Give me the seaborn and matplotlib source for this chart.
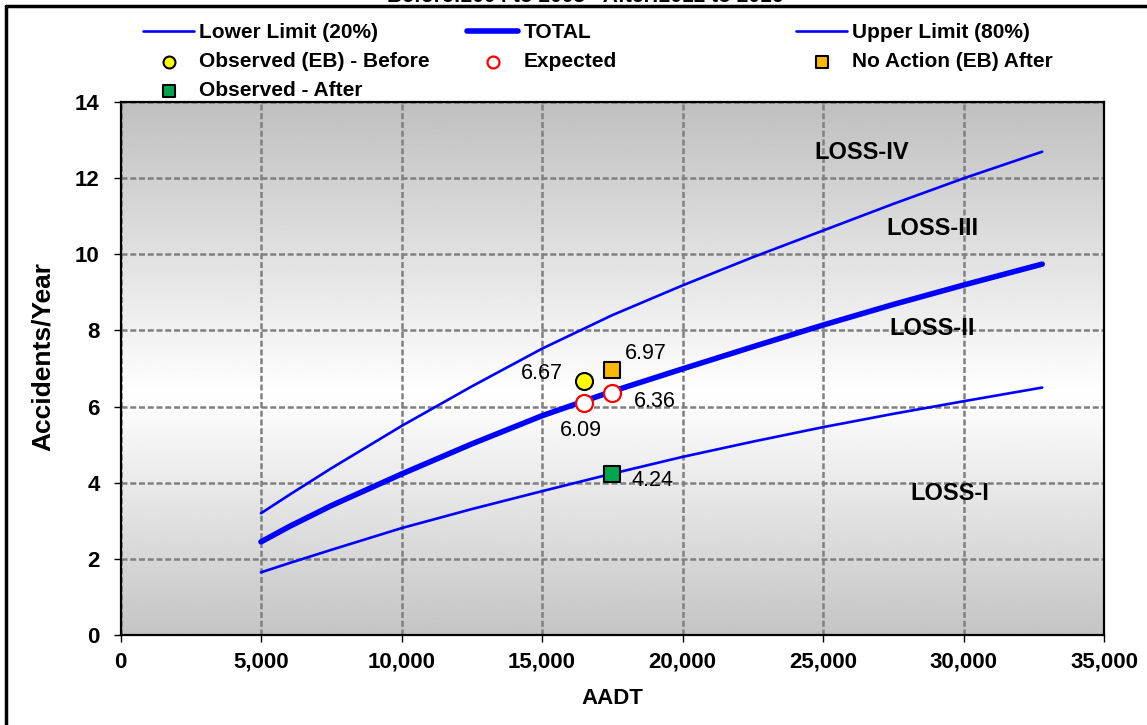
import numpy as np
import pandas as pd
import matplotlib
matplotlib.use("Agg")
import matplotlib.pyplot as plt
from matplotlib.lines import Line2D
import seaborn as sns

# ---------------- data ----------------
aadt = [5000, 6000, 7500, 10000, 12500, 15000, 17500, 20000, 22500, 25000, 27500, 30000, 32800]
lower_limit = [1.65, 1.89, 2.24, 2.81, 3.31, 3.78, 4.24, 4.68, 5.08, 5.46, 5.81, 6.14, 6.50]
total = [2.45, 2.85, 3.40, 4.23, 5.02, 5.76, 6.40, 6.99, 7.57, 8.14, 8.68, 9.19, 9.74]
upper_limit = [3.20, 3.68, 4.38, 5.49, 6.53, 7.52, 8.40, 9.18, 9.92, 10.62, 11.32, 11.99, 12.69]

obs_before_x = [16500]
obs_before_y = [6.67]
expected_x = [16500, 17500]
expected_y = [6.09, 6.36]
no_action_x = [17500]
no_action_y = [6.97]
obs_after_x = [17500]
obs_after_y = [4.24]

x_ticks = [0, 5000, 10000, 15000, 20000, 25000, 30000, 35000]
x_tick_labels = ["0", "5,000", "10,000", "15,000", "20,000", "25,000", "30,000", "35,000"]
y_ticks = [0, 2, 4, 6, 8, 10, 12, 14]

zone_labels = ["LOSS-IV", "LOSS-III", "LOSS-II", "LOSS-I"]
zone_x = [26360, 28900, 28900, 29520]
zone_y = [12.66, 10.68, 8.04, 3.72]

title_text = "Before:2004 to 2008 - After:2012 to 2016"

# ---------------- style ----------------
sns.set_style("white")
plt.rcParams["font.family"] = ["Liberation Sans", "DejaVu Sans"]
for k in ["text.color", "axes.labelcolor", "xtick.color", "ytick.color"]:
    plt.rcParams[k] = "black"

W, H = 1147, 725
fig = plt.figure(figsize=(W / 100, H / 100), dpi=100)
ax = fig.add_axes([120.5 / W, 1 - 635.2 / H, (1104 - 120.5) / W, (635.2 - 101.8) / H])

# background gradient (gray - white - gray)
yy = np.linspace(0, 14, 300)
vals = np.where(yy < 6.3, 0.77 + (1 - 0.77) * (yy / 6.3), 1 - (1 - 0.75) * ((yy - 6.3) / (14 - 6.3)))
grad = vals[:, None]
ax.imshow(grad, extent=[0, 35000, 0, 14], origin="lower", aspect="auto",
          cmap="gray", vmin=0, vmax=1, zorder=0, interpolation="bilinear")

blue = "#0000FF"
curves = pd.DataFrame({"AADT": aadt, "lower": lower_limit, "total": total, "upper": upper_limit})
sns.lineplot(data=curves, x="AADT", y="lower", ax=ax, color=blue, lw=1.9, label="Lower Limit (20%)", zorder=3)
sns.lineplot(data=curves, x="AADT", y="total", ax=ax, color=blue, lw=4.0, label="TOTAL", zorder=3)
sns.lineplot(data=curves, x="AADT", y="upper", ax=ax, color=blue, lw=1.9, label="Upper Limit (80%)", zorder=3)

sns.scatterplot(x=obs_before_x, y=obs_before_y, ax=ax, marker="o", s=150, color="#FFFF00",
                edgecolor="black", linewidth=1.5, label="Observed (EB) - Before", zorder=5)
sns.scatterplot(x=expected_x, y=expected_y, ax=ax, marker="o", s=150, color="white",
                edgecolor="#FF0000", linewidth=1.6, label="Expected", zorder=5)
sns.scatterplot(x=no_action_x, y=no_action_y, ax=ax, marker="s", s=140, color="#FFB800",
                edgecolor="black", linewidth=1.5, label="No Action (EB) After", zorder=5)
sns.scatterplot(x=obs_after_x, y=obs_after_y, ax=ax, marker="s", s=140, color="#00A550",
                edgecolor="black", linewidth=1.5, label="Observed - After", zorder=5)

handles, labels = ax.get_legend_handles_labels()
hmap = dict(zip(labels, handles))
ax.get_legend().remove()

# data labels
def lab(x, y, txt, dx, dy, ha):
    ax.annotate(txt, (x, y), xytext=(dx * 0.72, dy * 0.72), textcoords="offset points",
                ha=ha, va="center", fontsize=15.5, color="black", zorder=6)

lab(obs_before_x[0], obs_before_y[0], f"{obs_before_y[0]:.2f}", -21, 8, "right")
lab(no_action_x[0], no_action_y[0], f"{no_action_y[0]:.2f}", 13, 16, "left")
lab(expected_x[1], expected_y[1], f"{expected_y[1]:.2f}", 22, -9, "left")
lab(expected_x[0], expected_y[0], f"{expected_y[0]:.2f}", -3, -27, "center")
lab(obs_after_x[0], obs_after_y[0], f"{obs_after_y[0]:.2f}", 19, -7, "left")

for t, zx, zy in zip(zone_labels, zone_x, zone_y):
    ax.text(zx, zy, t, ha="center", va="center", fontsize=17, fontweight="bold",
            color="black", zorder=6)

# axes
ax.set_xlim(0, 35000)
ax.set_ylim(0, 14)
ax.set_xticks(x_ticks)
ax.set_xticklabels(x_tick_labels)
ax.set_yticks(y_ticks)
ax.grid(True, color="#808080", lw=1.8, linestyle=(0, (2.4, 1.1)), zorder=1)
ax.set_axisbelow(False)
for gl in ax.get_xgridlines() + ax.get_ygridlines():
    gl.set_zorder(1)
for s in ax.spines.values():
    s.set_color("black")
    s.set_linewidth(1.6)
    s.set_zorder(7)
ax.tick_params(axis="both", which="both", direction="out", length=5, width=1, color="black",
               labelsize=16, labelcolor="black")
ax.tick_params(axis="x", pad=7, bottom=True)
ax.tick_params(axis="y", pad=10, left=True)
for t in ax.get_xticklabels() + ax.get_yticklabels():
    t.set_fontweight("bold")
ax.set_xlabel("AADT", fontsize=16, fontweight="bold", color="black")
ax.set_ylabel("Accidents/Year", fontsize=19, fontweight="bold", color="black")
ax.xaxis.set_label_coords(0.5, -(688 - 635.2) / 533.4)
ax.yaxis.set_label_coords(-(120.5 - 55) / 983.5, (635.2 - 357) / 533.4)

# legend (three columns)
leg_kw = dict(loc="upper left", frameon=False, prop={"weight": "bold", "size": 15},
              borderpad=0, borderaxespad=0, handlelength=2.45, handletextpad=0.25,
              labelspacing=0.48, markerscale=0.7, labelcolor="black")
cols = [
    (["Lower Limit (20%)", "Observed (EB) - Before", "Observed - After"], 143),
    (["TOTAL", "Expected"], 467),
    (["Upper Limit (80%)", "No Action (EB) After"], 796),
]
for labs, xpx in cols:
    fig.legend([hmap[l] for l in labs], labs, bbox_to_anchor=(xpx / W, 1 - 23 / H), **leg_kw)

# title (cut at the top as in reference) and outer border
fig.text(0.51, 1 - 6 / H, title_text, ha="center", va="bottom", fontsize=15, fontweight="bold",
         color="black")
fig.add_artist(Line2D([6 / W, 6 / W], [0, 1 - 6 / H], transform=fig.transFigure, color="black", lw=2.5))
fig.add_artist(Line2D([6 / W, 1], [1 - 6 / H, 1 - 6 / H], transform=fig.transFigure, color="black", lw=2.5))

fig.savefig("out.png", dpi=100)
